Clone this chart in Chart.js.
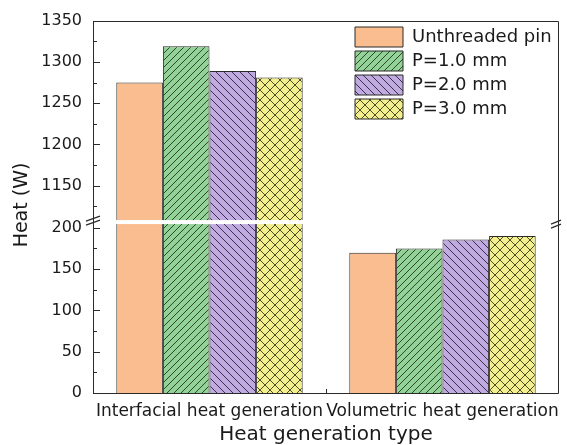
<!DOCTYPE html>
<html>
<head>
<meta charset="utf-8">
<script src="https://cdn.jsdelivr.net/npm/chart.js@4.4.1/dist/chart.umd.min.js"></script>
<style>
  html, body { margin: 0; padding: 0; background: #ffffff; }
  #wrap { width: 567px; height: 445px; }
</style>
</head>
<body>
<div id="wrap"><canvas id="c" width="567" height="445"></canvas></div>
<script>
// ---- data ----
const categories = ['Interfacial heat generation', 'Volumetric heat generation'];
const seriesNames = ['Unthreaded pin', 'P=1.0 mm', 'P=2.0 mm', 'P=3.0 mm'];
const unthreaded = [1275, 170];
const p10 = [1319, 175];
const p20 = [1289, 186];
const p30 = [1281, 190];
const lowerRange = [0, 207];
const upperRange = [1106, 1350];
const majorStep = 50;
const minorStep = 25;

const FONT = "'DejaVu Sans', sans-serif";
const TEXT = '#1a1a1a';
const LINE = '#2a2a2a';

function hatch(bg, type, size, lineColor) {
  const c = document.createElement('canvas');
  c.width = size; c.height = size;
  const g = c.getContext('2d');
  g.fillStyle = bg; g.fillRect(0, 0, size, size);
  if (type) {
    g.strokeStyle = lineColor; g.lineWidth = 1;
    g.beginPath();
    if (type === '/' || type === 'x') {
      g.moveTo(-1, size + 1); g.lineTo(size + 1, -1);
      g.moveTo(-1, 1); g.lineTo(1, -1);
      g.moveTo(size - 1, size + 1); g.lineTo(size + 1, size - 1);
    }
    if (type === '\\' || type === 'x') {
      g.moveTo(-1, -1); g.lineTo(size + 1, size + 1);
      g.moveTo(size - 1, -1); g.lineTo(size + 1, 1);
      g.moveTo(-1, size - 1); g.lineTo(1, size + 1);
    }
    g.stroke();
  }
  return g.createPattern(c, 'repeat');
}

const fills = [
  '#FABD8F',
  hatch('#93D296', '/', 7, 'rgba(35,55,35,0.9)'),
  hatch('#C0AADF', '\\', 8, 'rgba(40,35,60,0.9)'),
  hatch('#F3EE8E', 'x', 10, 'rgba(60,60,25,0.9)')
];
const seriesValues = [unthreaded, p10, p20, p30];

const datasets = [];
seriesValues.forEach((vals, i) => {
  datasets.push({
    label: seriesNames[i], data: vals, yAxisID: 'yLow', stack: 's' + i,
    backgroundColor: fills[i], borderColor: LINE, borderWidth: 1, clip: 0
  });
});
seriesValues.forEach((vals, i) => {
  datasets.push({
    label: seriesNames[i] + ' (upper)', data: vals.map(v => v >= upperRange[0] ? v : null), yAxisID: 'yHigh', stack: 's' + i,
    backgroundColor: fills[i], borderColor: LINE, borderWidth: 1, clip: 0
  });
});

function yAxis(range, weight) {
  return {
    type: 'linear', position: 'left', stack: 'ys', stackWeight: weight,
    min: range[0], max: range[1], stacked: false,
    grid: { display: false, drawTicks: false },
    border: { display: false },
    ticks: {
      stepSize: minorStep, includeBounds: false, autoSkip: false, padding: 11,
      color: TEXT, font: { family: FONT, size: 16 },
      callback: v => (v % majorStep === 0 ? String(v) : '')
    },
    afterFit: s => { s.width = 93; }
  };
}

const decor = {
  id: 'decor',
  afterLayout(chart) {
    const lg = chart.legend;
    if (!lg) return;
    const w = lg.width, h = lg.height;
    lg.left = 351; lg.top = 23; lg.right = lg.left + w; lg.bottom = lg.top + h;
  },
  afterDatasetsDraw(chart) {
    const ctx = chart.ctx;
    const a = chart.chartArea;
    const lo = chart.scales.yLow, hi = chart.scales.yHigh, x = chart.scales.x;
    const brk = (lo.top + hi.bottom) / 2;
    ctx.save();
    // white break band
    ctx.fillStyle = '#ffffff';
    ctx.fillRect(a.left + 1, brk - 2, a.right - a.left - 2, 4);
    // frame
    ctx.strokeStyle = LINE; ctx.lineWidth = 1;
    ctx.beginPath();
    ctx.rect(Math.round(a.left) + 0.5, Math.round(a.top) + 0.5, Math.round(a.right - a.left) - 1, Math.round(a.bottom - a.top));
    ctx.stroke();
    // inward ticks
    ctx.beginPath();
    [lo, hi].forEach(sc => {
      sc.ticks.forEach(t => {
        const y = Math.round(sc.getPixelForValue(t.value)) + 0.5;
        const len = (t.value % majorStep === 0) ? 7 : 4;
        ctx.moveTo(a.left, y); ctx.lineTo(a.left + len, y);
      });
    });
    // x boundary tick
    const xb = Math.round((x.getPixelForTick(0) + x.getPixelForTick(1)) / 2) + 0.5;
    ctx.moveTo(xb, a.bottom); ctx.lineTo(xb, a.bottom - 4);
    ctx.stroke();
    // break marks
    ctx.lineWidth = 1.2;
    ctx.beginPath();
    ctx.moveTo(a.left - 7, brk - 1); ctx.lineTo(a.left + 7, brk - 6);
    ctx.moveTo(a.left - 7, brk + 3); ctx.lineTo(a.left + 7, brk - 2);
    ctx.moveTo(a.right - 8, brk + 2); ctx.lineTo(a.right + 2, brk - 2);
    ctx.moveTo(a.right - 8, brk + 6); ctx.lineTo(a.right + 2, brk + 2);
    ctx.stroke();
    // y axis title
    ctx.fillStyle = TEXT;
    ctx.font = "19px " + FONT;
    ctx.textAlign = 'center'; ctx.textBaseline = 'middle';
    ctx.translate(22, 205);
    ctx.rotate(-Math.PI / 2);
    ctx.fillText('Heat (W)', 0, 0);
    ctx.restore();
  }
};

new Chart(document.getElementById('c'), {
  type: 'bar',
  data: { labels: categories, datasets },
  options: {
    responsive: false,
    animation: false,
    layout: { padding: { top: 18, right: 1, left: 0, bottom: 0 } },
    datasets: { bar: { categoryPercentage: 0.8, barPercentage: 1.0 } },
    plugins: {
      legend: {
        position: 'chartArea', align: 'start',
        labels: {
          filter: item => item.datasetIndex < 4,
          boxWidth: 48, boxHeight: 20, padding: 4,
          color: TEXT, font: { family: FONT, size: 18 }
        }
      },
      tooltip: { enabled: false }
    },
    scales: {
      x: {
        type: 'category', offset: true,
        grid: { display: false, drawTicks: false },
        border: { display: false },
        ticks: { padding: 8, maxRotation: 0, autoSkip: false, color: TEXT, font: { family: FONT, size: 17 } },
        title: { display: true, text: 'Heat generation type', color: TEXT, padding: 0, font: { family: FONT, size: 20, lineHeight: 1 } },
        afterFit: s => { s.height = 52; }
      },
      yLow: yAxis(lowerRange, lowerRange[1] - lowerRange[0]),
      yHigh: yAxis(upperRange, upperRange[1] - upperRange[0])
    }
  },
  plugins: [decor]
});
</script>
</body>
</html>
